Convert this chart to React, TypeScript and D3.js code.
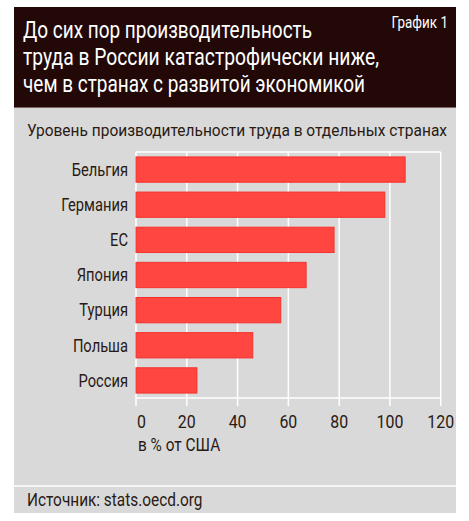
import React from "react";
import * as d3 from "d3";

const categories = ["Бельгия", "Германия", "ЕС", "Япония", "Турция", "Польша", "Россия"];
const values = [106, 98, 78, 67, 57, 46, 24];
const xTicks = [0, 20, 40, 60, 80, 100, 120];
const titleLines = [
  "До сих пор производительность",
  "труда в России катастрофически ниже,",
  "чем в странах с развитой экономикой",
];
const titleWidths = [289, 356, 342];
const chartLabel = "График 1";
const subtitle = "Уровень производительности труда в отдельных странах";
const unitLabel = "в % от США";
const sourceLabel = "Источник: stats.oecd.org";

const FONT = "Roboto, 'DejaVu Sans Condensed', sans-serif";
const TEXT = "#2a1a14";
const SX = 0.84;

function T(props: {
  x: number; y: number; children: React.ReactNode; size: number; anchor?: string;
  fill?: string; sx?: number; dy?: string; len?: number;
}) {
  const { x, y, children, size, anchor = "start", fill = TEXT, sx = SX, dy, len } = props;
  return (
    <text
      transform={`translate(${x},${y}) scale(${len ? 1 : sx},1)`}
      x={0}
      y={0}
      dy={dy}
      fontSize={size}
      textAnchor={anchor}
      fill={fill}
      textLength={len}
      lengthAdjust={len ? "spacingAndGlyphs" : undefined}
    >
      {children}
    </text>
  );
}

export default function App() {
  const W = 469, H = 521;
  const x = d3.scaleLinear().domain([0, 120]).range([136, 440.7]);
  const y = d3.scaleBand<string>().domain(categories).range([152, 398]).paddingInner(0.28).paddingOuter(0.14);

  return (
    <div style={{ position: "fixed", left: 0, top: 0 }}>
      <svg width={W} height={H} style={{ display: "block", fontFamily: FONT }}>
        <rect x={0} y={0} width={W} height={H} fill="#ffffff" />
        <rect x={14} y={108} width={442} height={405} fill="#d9d9d9" />
        <rect x={14} y={7} width={442} height={100} fill="#220907" />
        <line x1={14} x2={456} y1={107.5} y2={107.5} stroke="#7d6660" strokeWidth={1} />
        {titleLines.map((t, i) => (
          <T key={i} x={23} y={38 + i * 27} fill="#ffffff" size={24} len={titleWidths[i]}>{t}</T>
        ))}
        <T x={448} y={28} fill="#ffffff" size={16} anchor="end">{chartLabel}</T>
        <T x={27} y={136} size={17} len={420}>{subtitle}</T>

        {/* grid */}
        <line x1={x(0)} x2={x(120)} y1={152} y2={152} stroke="#ffffff" strokeWidth={1.5} />
        <line x1={x(0)} x2={x(120)} y1={398} y2={398} stroke="#ffffff" strokeWidth={1.5} />
        {xTicks.map((t) => (
          <line key={t} x1={x(t)} x2={x(t)} y1={152} y2={406} stroke="#ffffff" strokeWidth={1.5} />
        ))}

        {categories.map((c, i) => (
          <g key={c}>
            <rect
              x={x(0)}
              y={y(c)!}
              width={x(values[i]) - x(0)}
              height={y.bandwidth()}
              fill="#ff4640"
              stroke="#f5322e"
              strokeWidth={1}
            />
            <T x={128} y={y(c)! + y.bandwidth() / 2} dy="0.36em" anchor="end" size={17.5}>{c}</T>
          </g>
        ))}

        {xTicks.map((t, i) => (
          <T key={t} x={i === 0 ? x(t) + 1 : x(t)} y={428} anchor={i === 0 ? "start" : "middle"} size={18.5} sx={0.86}>{t}</T>
        ))}
        <T x={138} y={451} size={17.5} sx={0.88}>{unitLabel}</T>

        <line x1={14} x2={456} y1={486} y2={486} stroke="#ffffff" strokeWidth={1.5} />
        <T x={27} y={506} size={17.5} sx={0.88}>{sourceLabel}</T>
      </svg>
    </div>
  );
}
